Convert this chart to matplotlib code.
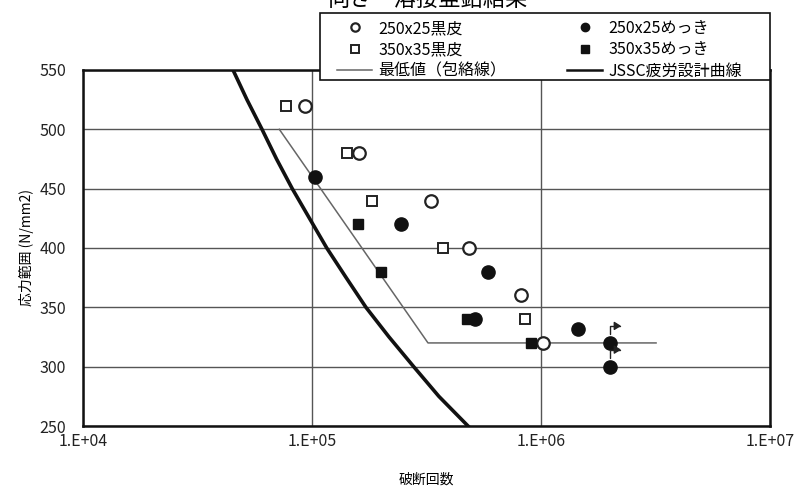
import matplotlib
matplotlib.use("Agg")
import matplotlib.pyplot as plt
from matplotlib.lines import Line2D
from matplotlib.patches import FancyArrowPatch, Rectangle

plt.rcParams['font.family'] = ['Noto Sans CJK JP', 'DejaVu Sans']

# ---- data ----
title_text = "向き・溶接亜鉛結果"
xlabel = "破断回数"
ylabel = "応力範囲 (N/mm2)"

bk_250_N = [9.3e4, 1.60e5, 3.31e5, 4.85e5, 8.18e5, 1.02e6]
bk_250_S = [520, 480, 440, 400, 360, 320]
bk_350_N = [7.7e4, 1.42e5, 1.83e5, 3.73e5, 8.51e5]
bk_350_S = [520, 480, 440, 400, 340]
mk_250_N = [1.03e5, 2.45e5, 5.88e5, 5.15e5, 1.45e6, 2.0e6, 2.0e6]
mk_250_S = [460, 420, 380, 340, 332, 320, 300]
mk_350_N = [1.59e5, 2.00e5, 4.75e5, 9.04e5]
mk_350_S = [420, 380, 340, 320]
runout_N = [2.0e6, 2.0e6]
runout_S = [320, 300]

env_N = [7.2e4, 3.21e5, 3.18e6]
env_S = [500, 320, 320]

jssc_N = [4.52e4, 5.2e4, 6.05e4, 7.0e4, 8.2e4, 9.75e4, 1.16e5,
          1.41e5, 1.72e5, 2.17e5, 2.78e5, 3.58e5, 4.80e5]
jssc_S = [550, 525, 500, 475, 450, 425, 400, 375, 350, 325, 300, 275, 250]

xticks = [1e4, 1e5, 1e6, 1e7]
xticklabels = ["1.E+04", "1.E+05", "1.E+06", "1.E+07"]
yticks = [250, 300, 350, 400, 450, 500, 550]

leg1_labels = ["250x25黒皮", "350x35黒皮", "最低値（包絡線）"]
leg2_labels = ["250x25めっき", "350x35めっき", "JSSC疲労設計曲線"]

# ---- figure ----
W, H = 803, 486
fig = plt.figure(figsize=(W / 100, H / 100), dpi=100)
ax = fig.add_axes([83 / W, 1 - 426 / H, (770 - 83) / W, (426 - 70) / H])
ax.set_xscale('log')
ax.set_xlim(1e4, 1e7)
ax.set_ylim(250, 550)

ax.set_xticks(xticks)
ax.set_xticklabels(xticklabels)
ax.minorticks_off()
ax.set_yticks(yticks)
ax.tick_params(length=0, labelsize=11.5, colors='#222222')
ax.tick_params(axis='x', pad=5)
ax.tick_params(axis='y', pad=12)
ax.grid(True, which='major', color='#555555', lw=1.0)
ax.set_axisbelow(True)
for s in ax.spines.values():
    s.set_linewidth(1.8)
    s.set_color('#111111')

ax.plot(env_N, env_S, color='#666666', lw=1.1, zorder=3)
ax.plot(jssc_N, jssc_S, color='#111111', lw=2.6, zorder=3)

ax.plot(bk_250_N, bk_250_S, 'o', ms=9, mfc='white', mec='#222222', mew=1.6, ls='none', zorder=4)
ax.plot(bk_350_N, bk_350_S, 's', ms=7.5, mfc='white', mec='#222222', mew=1.4, ls='none', zorder=4)
ax.plot(mk_250_N, mk_250_S, 'o', ms=9.5, mfc='#111111', mec='#111111', ls='none', zorder=5)
ax.plot(mk_350_N, mk_350_S, 's', ms=7.5, mfc='#111111', mec='#111111', ls='none', zorder=5)

ax.set_xlabel(xlabel, fontsize=10, labelpad=16)
ax.set_ylabel(ylabel, fontsize=10, labelpad=4)

# run-out arrows
fig.canvas.draw()
for n, s in zip(runout_N, runout_S):
    px, py = ax.transData.transform((n, s))
    arr = FancyArrowPatch((px, py + 6), (px + 14, py + 17),
                          connectionstyle="angle,angleA=90,angleB=0,rad=0",
                          arrowstyle='-|>,head_length=4,head_width=2.5',
                          color='#222222', lw=1.0, transform=None,
                          mutation_scale=1)
    fig.patches.append(arr)

# legend frame
frame = Rectangle((320 / W, 1 - 80 / H), 450 / W, 67 / H, transform=fig.transFigure,
                  facecolor='white', edgecolor='#111111', lw=1.2, zorder=9)
fig.add_artist(frame)

h1 = [
    Line2D([], [], marker='o', ls='none', ms=6, mfc='white', mec='#222222', mew=1.6),
    Line2D([], [], marker='s', ls='none', ms=6, mfc='white', mec='#222222', mew=1.4),
    Line2D([], [], color='#666666', lw=1.1),
]
h2 = [
    Line2D([], [], marker='o', ls='none', ms=6, mfc='#111111', mec='#111111'),
    Line2D([], [], marker='s', ls='none', ms=6, mfc='#111111', mec='#111111'),
    Line2D([], [], color='#111111', lw=1.8),
]
common = dict(loc='upper left', fontsize=11.5, frameon=False, borderaxespad=0,
              borderpad=0, handlelength=2.2, handletextpad=0.4, labelspacing=0.28)
leg1 = fig.legend(h1, leg1_labels, bbox_to_anchor=(337 / W, 1 - 20 / H), **common)
leg2 = fig.legend(h2, leg2_labels, bbox_to_anchor=(567 / W, 1 - 20 / H), **common)
leg1.set_zorder(10)
leg2.set_zorder(10)

fig.text(428 / W, 1 + 1 / H, title_text, fontsize=16, ha='center', va='center')

fig.savefig("out.png", dpi=100)
